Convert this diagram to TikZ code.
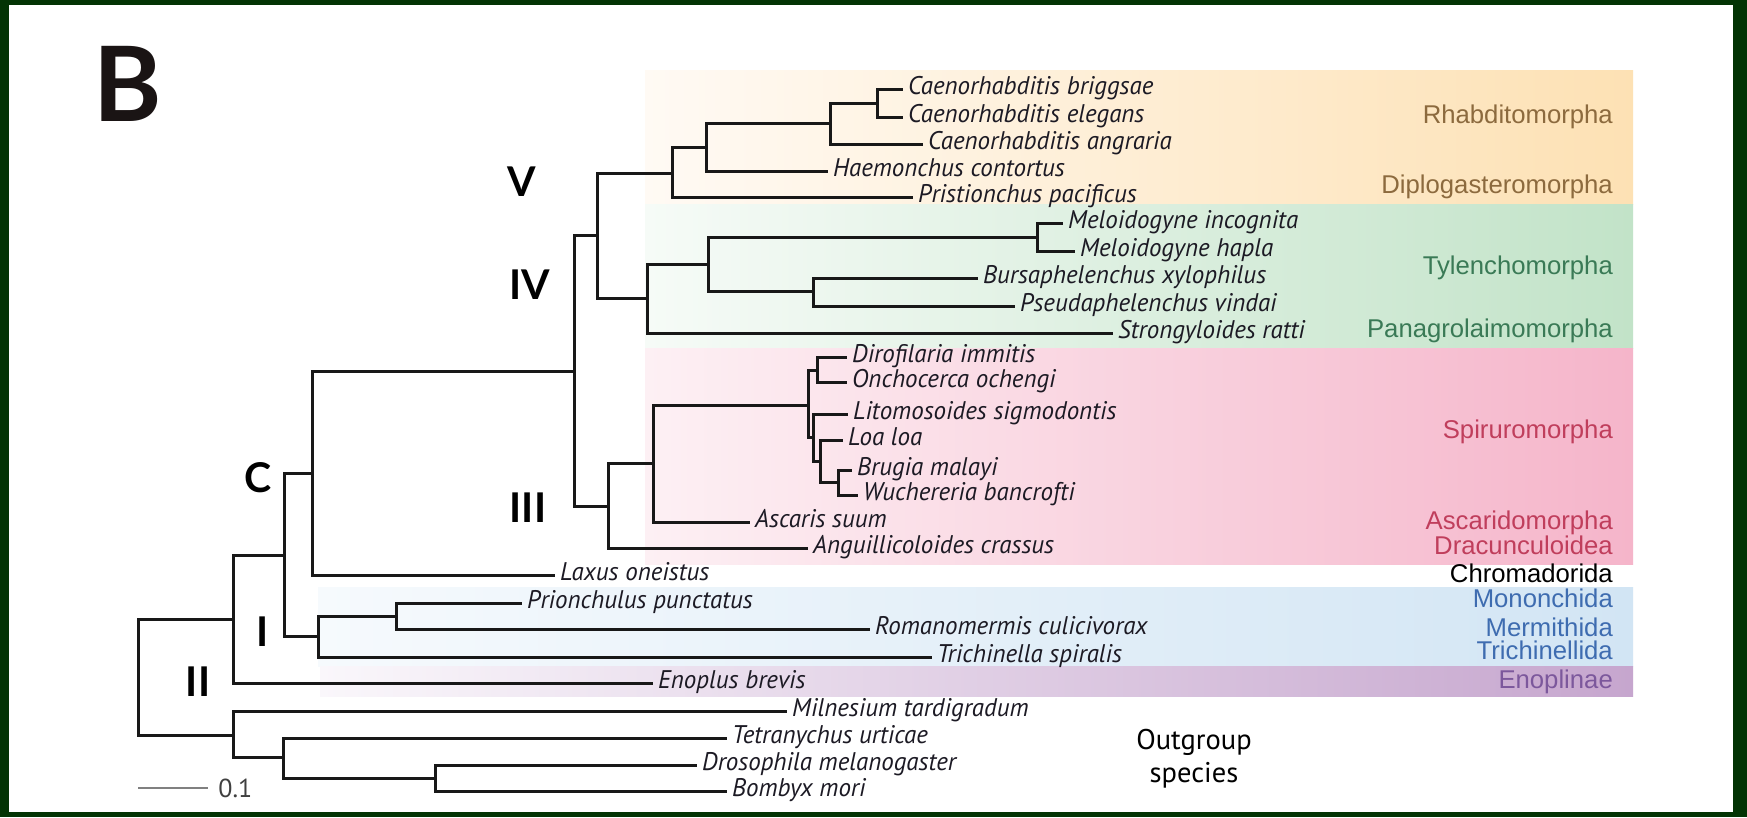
\documentclass[tikz,border=0pt]{standalone}
\usepackage{fontspec}
\setmainfont{Liberation Sans}
\newfontfamily\spfont{PT Sans}[FakeStretch=0.98]
\newfontfamily\ogfont{PT Sans}
\newfontfamily\bfont{Lato}
\definecolor{frame}{RGB}{3,52,4}
\definecolor{tree}{RGB}{24,24,24}
\definecolor{spec}{RGB}{28,26,36}
\definecolor{brn}{RGB}{140,106,62}
\definecolor{grn}{RGB}{58,122,86}
\definecolor{rd}{RGB}{192,62,92}
\definecolor{blu}{RGB}{62,108,176}
\definecolor{pur}{RGB}{124,88,156}
\definecolor{orgL}{RGB}{255,250,244}
\definecolor{orgM}{RGB}{254,236,212}
\definecolor{orgR}{RGB}{253,225,180}
\definecolor{grnL}{RGB}{246,251,247}
\definecolor{grnM}{RGB}{214,237,218}
\definecolor{grnR}{RGB}{194,227,200}
\definecolor{pnkL}{RGB}{253,240,244}
\definecolor{pnkM}{RGB}{249,205,219}
\definecolor{pnkR}{RGB}{245,181,202}
\definecolor{bluL}{RGB}{246,250,253}
\definecolor{bluM}{RGB}{220,235,246}
\definecolor{bluR}{RGB}{210,229,244}
\definecolor{purL}{RGB}{250,247,251}
\definecolor{purM}{RGB}{222,204,228}
\definecolor{purR}{RGB}{198,166,206}

\begin{document}
\begin{tikzpicture}[x=1pt,y=-1pt,
  br/.style={draw=tree,line width=3pt},
  sp/.style={anchor=west,inner xsep=5pt,inner ysep=0pt,text height=15pt,text depth=5pt,
    text=spec,font=\spfont\itshape\fontsize{25.5}{25.5}\selectfont},
  clade/.style={anchor=east,inner sep=0pt,text height=17pt,text depth=5pt,
    font=\fontsize{25.7}{25.7}\selectfont},
  num/.style={inner sep=0pt,text=black,font=\bfont\bfseries\fontsize{41}{41}\selectfont}]
\useasboundingbox (0,0) rectangle (1747,817);
\fill[frame] (0,0) rectangle (1747,817);
\fill[white] (9,5) rectangle (1733,812);

\shade[left color=orgL,middle color=orgM,right color=orgR] (645,70) rectangle (1633,204);
\shade[left color=grnL,middle color=grnM,right color=grnR] (645,204) rectangle (1633,348);
\shade[left color=pnkL,middle color=pnkM,right color=pnkR] (645,348) rectangle (1633,564);
\shade[left color=bluL,middle color=bluM,right color=bluR] (318,587) rectangle (1633,666);
\shade[left color=purL,middle color=purM,right color=purR] (320,666) rectangle (1633,696);

\foreach \nm/\y/\c/\t in {rhab/117/brn/Rhabditomorpha,dipl/187/brn/Diplogasteromorpha,
  tyle/268/grn/Tylenchomorpha,pana/331/grn/Panagrolaimomorpha,spir/432/rd/Spiruromorpha,
  asca/523/rd/Ascaridomorpha,drac/548/rd/Dracunculoidea,chro/576/black/Chromadorida,
  mono/601/blu/Mononchida,merm/630/blu/Mermithida,tric/653/blu/Trichinellida,enop/682/pur/Enoplinae}
  \node[clade,text=\c] (\nm) at (1613,\y) {\t};

\foreach \nm/\x/\y in {root/138/677,nCE/233/619,nC/284/555,nCr/312/473,nSec/574/371,
  nIVV/597/235,nV/672/173,nRh/706/147,nCaen/830/123,nCbe/877/103,nIV/647/298,nTyl/708/264,
  nMel/1037/237,nBur/813/291,nIII/608/506,nSpi/653/463,nFil/808/405,nDO/817/370,
  nLit/813/437,nLoa/820/461,nBW/838/482,nDor/318/636,nMon/396/616,nOut/233/735,
  nArth/283/757,nIns/435/778}
  \coordinate (\nm) at (\x,\y);

\foreach \a/\b in {root/nCE,root/nOut,nCE/nC,nC/nCr,nC/nDor,nCr/nSec,nSec/nIVV,nSec/nIII,
  nIVV/nV,nIVV/nIV,nV/nRh,nRh/nCaen,nCaen/nCbe,nIV/nTyl,nTyl/nMel,nTyl/nBur,nIII/nSpi,
  nSpi/nFil,nFil/nDO,nFil/nLit,nLit/nLoa,nLoa/nBW,nDor/nMon,nOut/nArth,nArth/nIns}
  \draw[br] (\a) |- (\b);

\foreach \nm/\p/\x/\y/\t in {cbri/nCbe/903/89/Caenorhabditis briggsae,
  cele/nCbe/903/117/Caenorhabditis elegans,cang/nCaen/923/144/Caenorhabditis angraria,
  hcon/nRh/828/171/Haemonchus contortus,ppac/nV/913/197/Pristionchus pacificus,
  minc/nMel/1063/223/Meloidogyne incognita,mhap/nMel/1075/251/Meloidogyne hapla,
  bxyl/nBur/978/278/Bursaphelenchus xylophilus,pvin/nBur/1015/306/Pseudaphelenchus vindai,
  srat/nIV/1113/333/Strongyloides ratti,dimm/nDO/847/357/Dirofilaria immitis,
  ooch/nDO/847/382/Onchocerca ochengi,lsig/nLit/848/414/Litomosoides sigmodontis,
  lloa/nLoa/843/440/Loa loa,bmal/nBW/852/470/Brugia malayi,
  wban/nBW/858/495/Wuchereria bancrofti,asuu/nSpi/750/522/Ascaris suum,
  acra/nIII/808/548/Anguillicoloides crassus,lone/nCr/555/575/Laxus oneistus,
  ppun/nMon/522/603/Prionchulus punctatus,rcul/nMon/870/629/Romanomermis culicivorax,
  tspi/nDor/932/657/Trichinella spiralis,ebre/nCE/653/683/Enoplus brevis,
  mtar/nOut/787/711/Milnesium tardigradum,turt/nArth/727/738/Tetranychus urticae,
  dmel/nIns/697/765/Drosophila melanogaster,bmor/nIns/727/791/Bombyx mori}{
  \node[sp] (\nm) at (\x,\y) {\t};
  \draw[br] (\p) |- (\nm.west);
}

\node[num] (cV) at (522,182) {V};
\node[num] (cIV) at (530,285) {IV};
\node[num] (cIII) at (528,508) {III};
\node[num] (cC) at (258,478) {C};
\node[num] (cI) at (263,632) {I};
\node[num] (cII) at (198,682) {II};
\node[inner sep=0pt,text={rgb,255:red,26;green,20;blue,20},font=\bfont\bfseries\fontsize{104}{104}\selectfont] (panel) at (128,84) {B};

\node[align=center,inner sep=0pt,font=\ogfont\fontsize{28.5}{33}\selectfont] (outg) at (1194,759) {Outgroup\\species};

\coordinate (sb0) at (138,788);
\coordinate (sb1) at (208,788);
\draw[line width=2.8pt,draw=gray] (sb0) -- (sb1) node[right=9pt,inner sep=0pt,text=darkgray,font=\ogfont\fontsize{26}{26}\selectfont] (sbl) {0.1};
\end{tikzpicture}
\end{document}
